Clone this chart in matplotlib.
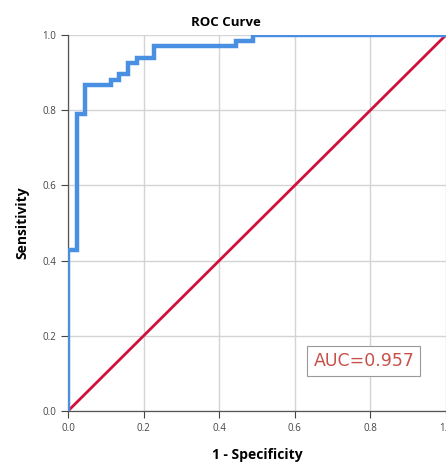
import matplotlib.pyplot as plt

# ROC curve points (1 - specificity, sensitivity)
fpr = [0.0, 0.0, 0.024, 0.024, 0.045, 0.045, 0.114, 0.114, 0.136, 0.136,
       0.159, 0.159, 0.182, 0.182, 0.227, 0.227, 0.445, 0.445, 0.49, 0.49, 1.0]
tpr = [0.0, 0.428, 0.428, 0.79, 0.79, 0.866, 0.866, 0.881, 0.881, 0.896,
       0.896, 0.925, 0.925, 0.94, 0.94, 0.97, 0.97, 0.985, 0.985, 1.0, 1.0]
ref_line = [0.0, 1.0]
auc = 0.957
ticks = [0.0, 0.2, 0.4, 0.6, 0.8, 1.0]

plt.rcParams['font.family'] = ['Open Sans', 'DejaVu Sans']

fig = plt.figure(figsize=(4.46, 4.65), dpi=100)
ax = fig.add_axes([68 / 446, 54 / 465, 378 / 446, 376 / 465])

ax.grid(True, color='#d4d4d4', linewidth=1.0)
ax.set_axisbelow(True)
ax.plot(ref_line, ref_line, color='#d0103a', linewidth=2.0, zorder=3)
ax.plot(fpr, tpr, color='#4a90e2', linewidth=3.2, zorder=4, solid_joinstyle='miter')

ax.set_xlim(0, 1)
ax.set_ylim(0, 1)
ax.set_xticks(ticks)
ax.set_yticks(ticks)
ax.set_xticklabels(['%.1f' % t for t in ticks])
ax.set_yticklabels(['%.1f' % t for t in ticks])
ax.tick_params(labelsize=7, colors='#444444', length=5, width=0.8, direction='out')

for s in ['top', 'right']:
    ax.spines[s].set_visible(False)
for s in ['left', 'bottom']:
    ax.spines[s].set_color('#555555')
    ax.spines[s].set_linewidth(0.9)

ax.set_xlabel('1 - Specificity', fontsize=10, fontweight='bold', labelpad=10)
ax.set_ylabel('Sensitivity', fontsize=10, fontweight='bold', labelpad=9)
fig.text(226 / 446, 1 - 22 / 465, 'ROC Curve', fontsize=9.5, fontweight='bold',
         ha='center', va='center')

ax.text(0.783, 0.133, 'AUC=%.3f' % auc, fontsize=12.5, color='#c8504a',
        family='DejaVu Sans', ha='center', va='center', zorder=5,
        bbox=dict(boxstyle='square,pad=0.35', facecolor='white', edgecolor='#999999', linewidth=0.8))

fig.savefig('out.png', dpi=100)
